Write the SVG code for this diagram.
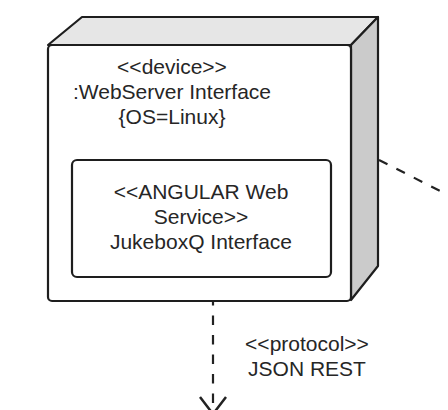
<svg xmlns="http://www.w3.org/2000/svg" width="448" height="410" viewBox="0 0 448 410">
  <style>
    .edge { stroke: #1e1e1e; stroke-width: 2.2; stroke-linejoin: round; stroke-linecap: round; }
    .front { fill: #ffffff; }
    .top { fill: #e6e6e6; }
    .side { fill: #cbcbcb; }
    .inner { fill: #ffffff; }
    .label { font-family: "Liberation Sans", Arial, sans-serif; font-size: 21px; fill: #262626; text-anchor: middle; }
    .dash { fill: none; stroke: #222222; stroke-width: 2.2; stroke-dasharray: 9.5 10; }
    .head { fill: none; stroke: #222222; stroke-width: 2.5; stroke-linejoin: miter; }
  </style>
  <rect width="448" height="410" fill="#ffffff"/>

  <g id="connectors">
    <line class="dash" x1="213" y1="302" x2="213" y2="412" stroke-dashoffset="6"/>
    <path class="head" d="M200,397 L213,414 L226,397"/>
    <line class="dash" x1="379" y1="160" x2="462" y2="202"/>
    <text class="label" x="307" y="351">&lt;&lt;protocol&gt;&gt;</text>
    <text class="label" x="307" y="376">JSON REST</text>
  </g>

  <g id="webserver-device">
    <path class="top edge" d="M48,45 L82,17 L378,17 L351,45 Z"/>
    <path class="side edge" d="M351,45 L378,17 L378,266 L351,300 Z"/>
    <rect class="front edge" x="48" y="45" width="303" height="256" rx="4" ry="4"/>
    <text class="label" x="172" y="74">&lt;&lt;device&gt;&gt;</text>
    <text class="label" x="172" y="99">:WebServer Interface</text>
    <text class="label" x="172" y="124">{OS=Linux}</text>

    <g id="jukeboxq-interface">
      <rect class="inner edge" x="72" y="160" width="259" height="117" rx="5" ry="5"/>
      <text class="label" x="201" y="199">&lt;&lt;ANGULAR Web</text>
      <text class="label" x="201" y="224">Service&gt;&gt;</text>
      <text class="label" x="201" y="249">JukeboxQ Interface</text>
    </g>
  </g>
</svg>
